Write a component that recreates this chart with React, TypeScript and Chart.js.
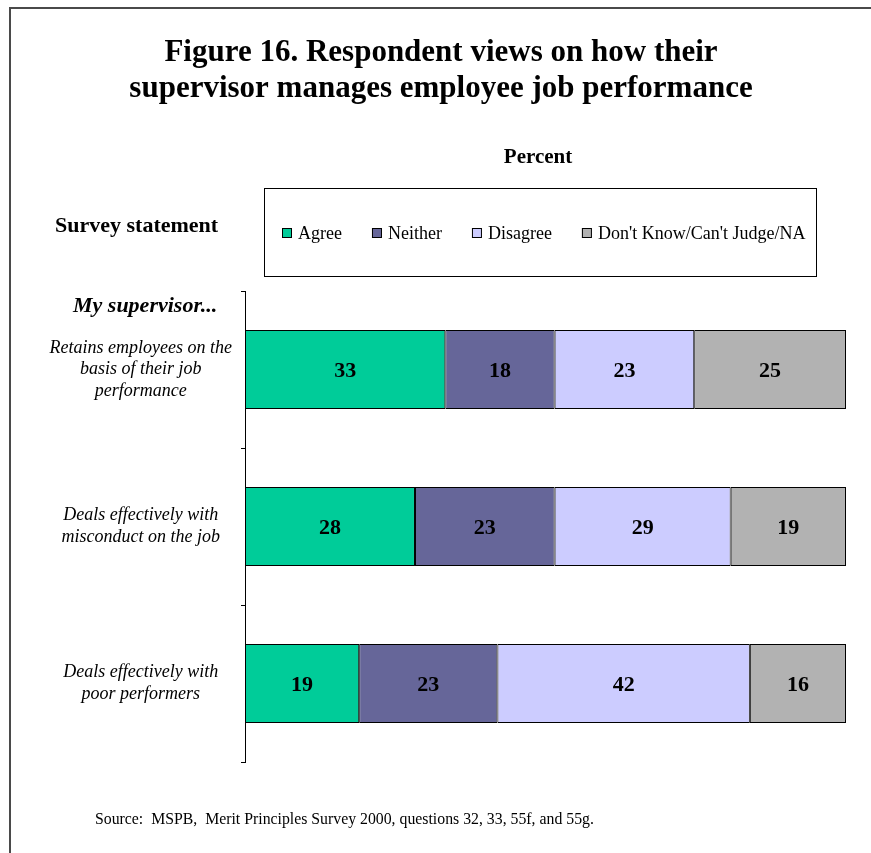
import React, { useEffect, useRef } from 'react';
import { Chart, registerables } from 'chart.js';

Chart.register(...registerables);

const titleLines = [
  'Figure 16. Respondent views on how their',
  'supervisor manages employee job performance',
];
const axisTitle = 'Percent';
const rowHeader = 'Survey statement';
const groupHeader = 'My supervisor...';
const sourceNote = 'Source:  MSPB,  Merit Principles Survey 2000, questions 32, 33, 55f, and 55g.';

const categories = [
  ['Retains employees on the', 'basis of their job', 'performance'],
  ['Deals effectively with', 'misconduct on the job'],
  ['Deals effectively with', 'poor performers'],
];
const seriesNames = ['Agree', 'Neither', 'Disagree', "Don't Know/Can't Judge/NA"];
const agree = [33, 28, 19];
const neither = [18, 23, 23];
const disagree = [23, 29, 42];
const dontKnow = [25, 19, 16];
const seriesColors = ['#00CC99', '#666699', '#CCCCFF', '#B2B2B2'];

const FONT = '"Liberation Serif", "Times New Roman", serif';

const rawSeries = [agree, neither, disagree, dontKnow];
const rowTotals = categories.map((_, i) => rawSeries.reduce((s, arr) => s + arr[i], 0));

const decorPlugin = {
  id: 'decor',
  beforeDraw(chart: any) {
    const ctx = chart.ctx as CanvasRenderingContext2D;
    ctx.save();
    ctx.fillStyle = '#ffffff';
    ctx.fillRect(0, 0, chart.width, chart.height);

    // page frame
    ctx.fillStyle = '#4a4a4a';
    ctx.fillRect(9, 7, 2, chart.height - 7);
    ctx.fillRect(9, 7, chart.width - 9, 2);

    ctx.fillStyle = '#000';
    // title
    ctx.textAlign = 'center';
    ctx.textBaseline = 'alphabetic';
    ctx.font = `bold 31px ${FONT}`;
    ctx.fillText(titleLines[0], 441, 61);
    ctx.fillText(titleLines[1], 441, 97);

    // axis title
    ctx.font = `bold 21px ${FONT}`;
    ctx.fillText(axisTitle, 538, 163);

    // row header
    ctx.textAlign = 'left';
    ctx.font = `bold 22px ${FONT}`;
    ctx.fillText(rowHeader, 55, 232);

    // group header
    ctx.font = `italic bold 22px ${FONT}`;
    ctx.fillText(groupHeader, 73, 312);

    // source
    ctx.font = `15.8px ${FONT}`;
    ctx.fillText(sourceNote, 95, 824);

    // legend box
    ctx.strokeStyle = '#000';
    ctx.lineWidth = 1;
    ctx.strokeRect(264.5, 188.5, 552, 88);

    ctx.font = `18px ${FONT}`;
    let x = 282;
    chart.data.datasets.forEach((ds: any) => {
      ctx.fillStyle = ds.backgroundColor;
      ctx.fillRect(x, 228, 10, 10);
      ctx.strokeStyle = '#000';
      ctx.strokeRect(x + 0.5, 228.5, 9, 9);
      ctx.fillStyle = '#000';
      ctx.fillText(ds.label, x + 16, 239);
      x += 16 + ctx.measureText(ds.label).width + 30;
    });
    ctx.restore();
  },
  afterDatasetsDraw(chart: any) {
    const ctx = chart.ctx as CanvasRenderingContext2D;
    ctx.save();
    ctx.font = `bold 22px ${FONT}`;
    ctx.fillStyle = '#000';
    ctx.textAlign = 'center';
    ctx.textBaseline = 'middle';
    chart.data.datasets.forEach((ds: any, di: number) => {
      const meta = chart.getDatasetMeta(di);
      meta.data.forEach((el: any, i: number) => {
        const c = el.getCenterPoint();
        ctx.fillText(String(rawSeries[di][i]), c.x, c.y + 1.5);
      });
    });
    ctx.restore();
  },
};

export default function App() {
  const ref = useRef<HTMLCanvasElement>(null);

  useEffect(() => {
    if (!ref.current) return;
    const chart = new Chart(ref.current, {
      type: 'bar',
      data: {
        labels: categories as any,
        datasets: rawSeries.map((arr, si) => ({
          label: seriesNames[si],
          data: arr.map((v, i) => (v / rowTotals[i]) * 100),
          backgroundColor: seriesColors[si],
          borderColor: '#000',
          borderWidth: 1,
          borderSkipped: false,
          barPercentage: 0.503,
          categoryPercentage: 1,
        })),
      },
      options: {
        indexAxis: 'y',
        animation: false,
        responsive: false,
        devicePixelRatio: 1,
        layout: { padding: { left: 10, top: 291, right: 25, bottom: 91 } },
        plugins: {
          legend: { display: false },
          title: { display: false },
          tooltip: { enabled: false },
        },
        scales: {
          x: { display: false, stacked: true, min: 0, max: 100 },
          y: {
            stacked: true,
            border: { display: true, color: '#000', width: 1 },
            grid: {
              display: true,
              drawOnChartArea: false,
              drawTicks: true,
              tickLength: 4,
              color: '#000',
              offset: true,
            },
            ticks: {
              color: '#000',
              autoSkip: false,
              crossAlign: 'center',
              padding: 9,
              font: { family: FONT, size: 18, style: 'italic', lineHeight: 1.2 },
            },
            afterFit: (s: any) => {
              s.width = 235;
            },
          },
        },
      } as any,
      plugins: [decorPlugin],
    });
    return () => chart.destroy();
  }, []);

  return (
    <div style={{ position: 'absolute', left: 0, top: 0, width: 871, height: 853 }}>
      <canvas ref={ref} width={871} height={853} style={{ display: 'block' }} />
    </div>
  );
}
